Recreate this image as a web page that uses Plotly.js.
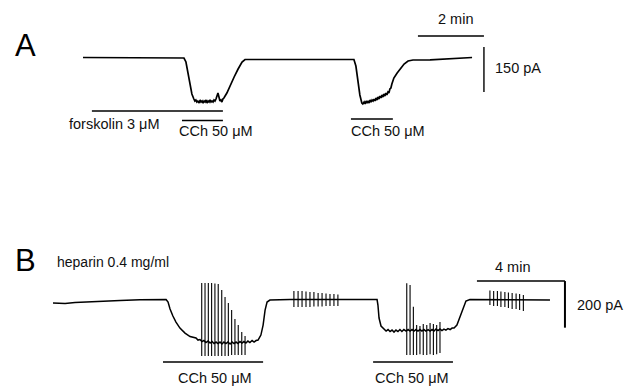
<!DOCTYPE html>
<html>
<head>
<meta charset="utf-8">
<script src="https://cdn.plot.ly/plotly-3.0.1.min.js"></script>
<style>html,body{margin:0;padding:0;background:#fff;}#chart{width:630px;height:387px;}</style>
</head>
<body>
<div id="chart"></div>
<script>
// ---------- Panel A: whole-cell current (time in min, current in pA) ----------
const aTime = [0, 0.82, 1.73, 3.06, 3.12, 3.18, 3.24, 3.30,
  3.36, 3.39, 3.42, 3.45, 3.48, 3.52, 3.55, 3.58, 3.61, 3.64, 3.67, 3.70, 3.73, 3.76, 3.79, 3.82, 3.85, 3.88, 3.91, 3.94, 3.97, 4.00, 4.03, 4.06, 4.09, 4.12, 4.15, 4.18, 4.21, 4.24,
  4.27, 4.36, 4.45, 4.58, 4.70, 4.82, 4.91, 5.21, 6.58, 8.21, 8.27, 8.33, 8.39,
  8.45, 8.48, 8.52, 8.55, 8.58, 8.61, 8.64, 8.67, 8.70, 8.73, 8.76, 8.79, 8.82, 8.85, 8.88, 8.91, 8.94, 8.97, 9.00, 9.03, 9.06, 9.09, 9.12, 9.15, 9.18, 9.21, 9.24, 9.27, 9.30, 9.33, 9.36,
  9.42, 9.52, 9.61, 9.73, 9.85, 10.0, 10.52, 11.12, 11.79];
const aCurrent = [1.7, 1.7, 0.7, 0, -13.3, -46.7, -86.7, -120,
  -136.7, -143.3, -140, -146.7, -143.3, -150, -140, -146.7, -143.3, -150, -143.3, -146.7, -140, -150, -143.3, -146.7, -140, -146.7, -143.3, -146.7, -140, -143.3, -136.7, -126.7, -116.7, -130, -143.3, -140, -146.7, -136.7,
  -133.3, -116.7, -93.3, -63.3, -36.7, -13.3, -5, -5, -4.3, -5, -26.7, -73.3, -123.3,
  -150, -153.3, -146.7, -153.3, -143.3, -150, -143.3, -150, -140, -146.7, -140, -143.3, -136.7, -143.3, -133.3, -140, -130, -136.7, -126.7, -133.3, -123.3, -130, -120, -126.7, -116.7, -123.3, -113.3, -116.7, -103.3, -100, -86.7,
  -66.7, -50, -36.7, -20, -10, -6.7, -6, -3.3, 1.7];

// drug applications in A (min)
const aDrugLabels = ["forskolin 3 \u03bcM", "CCh 50 \u03bcM", "CCh 50 \u03bcM"];
const aDrugStart = [0.27, 3.0, 8.12];
const aDrugEnd = [4.24, 4.24, 9.39];

// ---------- Panel B ----------
const bTime = [0, 0.55, 1.0, 1.45, 2.14, 3.05, 3.95, 5.14, 5.23, 5.32, 5.45, 5.59, 5.77, 6.0, 6.23,
  6.50, 6.59, 6.68, 6.77, 6.86, 6.95, 7.05, 7.14, 7.23, 7.32, 7.41, 7.50, 7.59, 7.68, 7.77, 7.86, 7.95, 8.05, 8.14, 8.23, 8.32, 8.41, 8.50, 8.59, 8.68, 8.77, 8.86, 8.95, 9.05, 9.14, 9.23, 9.32,
  9.45, 9.55, 9.64, 9.73, 9.86, 10.77, 13.05, 14.73, 14.77, 14.82, 14.91,
  14.95, 15.05, 15.14, 15.23, 15.32, 15.41, 15.5, 15.59, 15.68, 15.77, 15.86, 15.95, 16.05, 16.14, 16.23, 16.32, 16.41, 16.5, 16.59, 16.68, 16.77, 16.86, 16.95, 17.05, 17.14, 17.23, 17.32, 17.41, 17.5, 17.59, 17.68, 17.77, 17.86, 17.95, 18.05, 18.14, 18.23,
  18.36, 18.5, 18.64, 18.77, 18.95, 22.59];
const bCurrent = [-12.9, -15, -10.7, -8.6, -4.3, -2.1, 0.9, 2.1, -8.6, -38.6, -68.6, -94.4, -120.1, -141.6, -156.6,
  -163, -171.6, -169.5, -178, -173.7, -182.3, -175.9, -184.5, -178, -186.6, -180.2, -186.6, -180.2, -188.8, -180.2, -186.6, -180.2, -188.8, -180.2, -186.6, -180.2, -186.6, -178, -184.5, -178, -184.5, -175.9, -182.3, -173.7, -180.2, -173.7, -171.6,
  -150.2, -107.3, -42.9, -8.6, 0, 2.1, 2.1, 2.1, -21.5, -77.2, -111.5,
  -115.8, -124.4, -133, -126.6, -135.1, -128.7, -137.3, -128.7, -135.1, -126.6, -135.1, -126.6, -133, -126.6, -133, -126.6, -133, -126.6, -133, -126.6, -133, -126.6, -133, -126.6, -133, -126.6, -133, -124.4, -130.8, -124.4, -130.8, -124.4, -128.7, -122.3, -126.6, -120.1, -120.1,
  -107.3, -72.9, -30, -4.3, 2.1, 0];

// oscillatory Cl- current spikes in B: time (min), peak and trough (pA)
const bSpikeTime = [6.76, 6.91, 7.06, 7.21, 7.36, 7.51, 7.67, 7.82, 7.97, 8.12, 8.27, 8.42, 8.58, 8.73,
  10.95, 11.14, 11.32, 11.5, 11.68, 11.86, 12.05, 12.23, 12.41, 12.59, 12.77, 12.95,
  16.08, 16.23, 16.38, 16.53, 16.68, 16.83, 16.99, 17.14, 17.29, 17.44, 17.59,
  19.86, 20.03, 20.2, 20.36, 20.54, 20.7, 20.87, 21.05, 21.21, 21.38];
const bSpikePeak = [72.9, 72.9, 72.9, 72.9, 70.8, 68.6, 42.9, 12.9, -12.9, -42.9, -81.5, -107.3, -137.3, -154.4,
  38.6, 38.6, 38.6, 36.5, 34.3, 34.3, 30, 30, 27.9, 25.7, 25.7, 23.6,
  71.6, 64.4, -28.7, -107.3, -111.5, -103, -107.3, -98.7, -103, -107.3, -94.4,
  40.8, 38.6, 38.6, 36.5, 34.3, 32.2, 30, 27.9, 25.7, 21.5];
const bSpikeTrough = [-240, -240, -240, -240, -240, -240, -240, -240, -240, -236, -236, -236, -236, -236,
  -30, -30, -30, -30, -30, -27.9, -27.9, -27.9, -25.7, -25.7, -25.7, -25.7,
  -236, -236, -236, -236, -232, -236, -236, -232, -236, -232, -227,
  -21.5, -25.7, -25.7, -30, -30, -34.3, -38.6, -38.6, -42.9, -47.2];

const bDrugLabels = ["CCh 50 \u03bcM", "CCh 50 \u03bcM"];
const bDrugStart = [5.0, 14.55];
const bDrugEnd = [9.55, 18.18];

// scale bars
const aScaleTime = 2;     // min
const aScaleCurrent = 150; // pA
const bScaleTime = 4;     // min
const bScaleCurrent = 200; // pA

// ---------- build figure ----------
const ink = "#000";
const FONT = "'Liberation Sans', Arial, Helvetica, sans-serif";

const spX = [], spY = [];
for (let i = 0; i < bSpikeTime.length; i++) {
  spX.push(bSpikeTime[i], bSpikeTime[i], null);
  spY.push(bSpikePeak[i], bSpikeTrough[i], null);
}

const traces = [
  {x: aTime, y: aCurrent, xaxis: "x", yaxis: "y", mode: "lines", line: {color: ink, width: 1.7}, hoverinfo: "skip"},
  {x: bTime, y: bCurrent, xaxis: "x2", yaxis: "y2", mode: "lines", line: {color: ink, width: 1.5}, hoverinfo: "skip"},
  {x: spX, y: spY, xaxis: "x2", yaxis: "y2", mode: "lines", line: {color: ink, width: 1.1}, hoverinfo: "skip", connectgaps: false}
];

const shapes = [];
const annotations = [];
function hline(xr, yr, x0, x1, y, w) {
  shapes.push({type: "line", xref: xr, yref: yr, x0: x0, x1: x1, y0: y, y1: y, line: {color: ink, width: w || 1.5}});
}
function vline(xr, yr, x, y0, y1, w) {
  shapes.push({type: "line", xref: xr, yref: yr, x0: x, x1: x, y0: y0, y1: y1, line: {color: ink, width: w || 1.5}});
}
function label(xr, yr, x, y, text, size, anchor) {
  annotations.push({xref: xr, yref: yr, x: x, y: y, text: text, showarrow: false,
    xanchor: anchor || "center", yanchor: "middle", font: {family: FONT, size: size || 14.5, color: "#111"}});
}

// Panel A drug bars
const aBarY = [-176.7, -208.3, -203.3];
const aLabY = [-220, -243.3, -243.3];
const aLabX = [0.94, 4.03, 9.24];
for (let i = 0; i < aDrugLabels.length; i++) {
  hline("x", "y", aDrugStart[i], aDrugEnd[i], aBarY[i], 1.6);
  label("x", "y", aLabX[i], aLabY[i], aDrugLabels[i]);
}
// Panel A scale bar
const aSbX = 10.15, aSbY = 73.3;
hline("x", "y", aSbX, aSbX + aScaleTime, aSbY, 1.4);
vline("x", "y", aSbX + aScaleTime, 36.7, 36.7 - aScaleCurrent, 1.4);
label("x", "y", aSbX + aScaleTime / 2 + 0.15, 130, aScaleTime + " min");
label("x", "y", aSbX + aScaleTime + 0.27, -33.3, aScaleCurrent + " pA", 14.5, "left");

// Panel B drug bars
const bLabX = [7.36, 16.32];
for (let i = 0; i < bDrugLabels.length; i++) {
  hline("x2", "y2", bDrugStart[i], bDrugEnd[i], -266, 1.6);
  label("x2", "y2", bLabX[i], -334.6, bDrugLabels[i]);
}
// Panel B scale bar
const bSbX = 19.27, bSbY = 81.5;
hline("x2", "y2", bSbX, bSbX + bScaleTime, bSbY, 1.6);
vline("x2", "y2", bSbX + bScaleTime, bSbY, bSbY - bScaleCurrent, 2);
label("x2", "y2", bSbX + bScaleTime / 2 - 0.4, 141.6, bScaleTime + " min");
label("x2", "y2", bSbX + bScaleTime + 0.46, -21.5, bScaleCurrent + " pA", 14.5, "left");
label("x2", "y2", 0.09, 163, "heparin 0.4 mg/ml", 14, "left");

// panel letters
annotations.push({xref: "paper", yref: "paper", x: 25 / 630, y: 1 - 45.5 / 387, text: "A", showarrow: false,
  xanchor: "center", yanchor: "middle", font: {family: FONT, size: 31, color: ink}});
annotations.push({xref: "paper", yref: "paper", x: 25 / 630, y: 1 - 260 / 387, text: "B", showarrow: false,
  xanchor: "center", yanchor: "middle", font: {family: FONT, size: 31, color: ink}});

const hidden = {visible: false, showgrid: false, zeroline: false, fixedrange: true};
const layout = {
  width: 630, height: 387,
  margin: {l: 0, r: 0, t: 0, b: 0},
  paper_bgcolor: "#fff", plot_bgcolor: "#fff",
  showlegend: false,
  xaxis: Object.assign({domain: [0, 1], range: [-2.515, 16.576], anchor: "y"}, hidden),
  yaxis: Object.assign({domain: [0.509, 1], range: [-440, 193.3], anchor: "x"}, hidden),
  xaxis2: Object.assign({domain: [0, 1], range: [-2.409, 26.227], anchor: "y2"}, hidden),
  yaxis2: Object.assign({domain: [0, 0.509], range: [-373, 472], anchor: "x2"}, hidden),
  shapes: shapes,
  annotations: annotations
};

Plotly.newPlot("chart", traces, layout, {staticPlot: true, displayModeBar: false});
</script>
</body>
</html>
